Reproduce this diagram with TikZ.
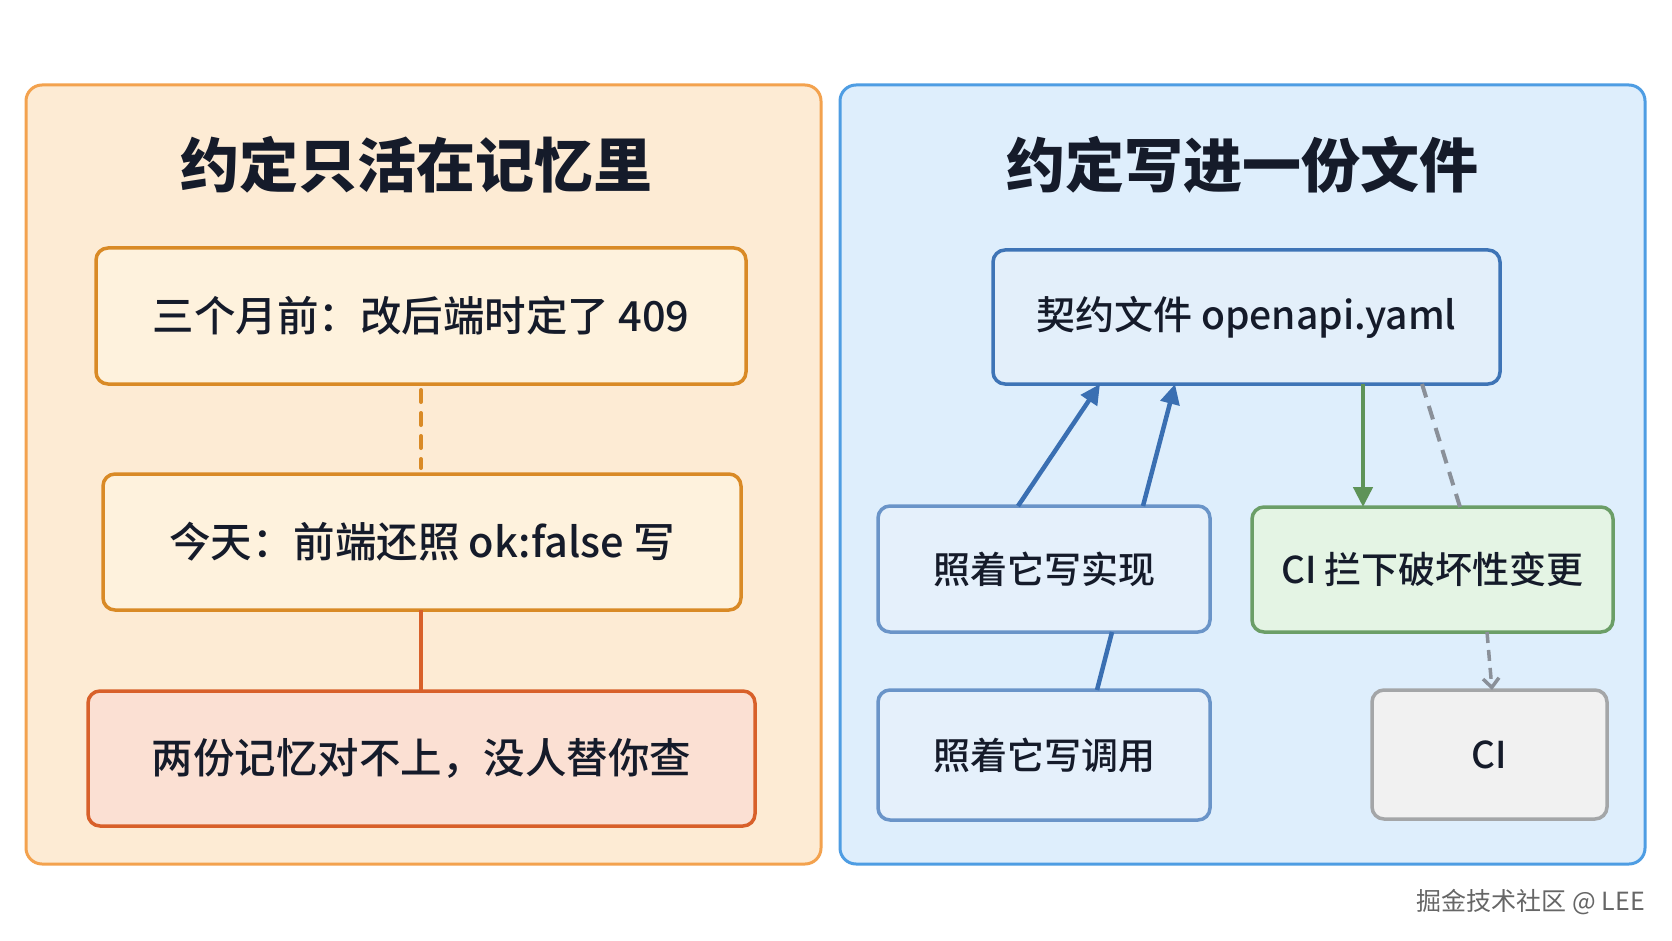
\documentclass[tikz,border=0pt]{standalone}
\usepackage{fontspec}
\setmainfont{Noto Sans CJK SC}
\newfontfamily\medfont{Noto Sans CJK SC Medium}
\usetikzlibrary{arrows.meta,calc}
\definecolor{ink}{HTML}{151B2A}
\definecolor{lpfill}{HTML}{FDEBD4}
\definecolor{lpdraw}{HTML}{F3A24E}
\definecolor{ofill}{HTML}{FEF2DD}
\definecolor{odraw}{HTML}{D98A26}
\definecolor{rfill}{HTML}{FBE0D3}
\definecolor{rdraw}{HTML}{D8602A}
\definecolor{rpfill}{HTML}{DEEEFC}
\definecolor{rpdraw}{HTML}{4E9DE3}
\definecolor{cfill}{HTML}{E3EFFA}
\definecolor{cdraw}{HTML}{3E74B6}
\definecolor{bfill}{HTML}{E5F0FB}
\definecolor{bdraw}{HTML}{6A94C8}
\definecolor{gfill}{HTML}{E4F4E4}
\definecolor{gdraw}{HTML}{6B9E67}
\definecolor{gyfill}{HTML}{F1F1F1}
\definecolor{gydraw}{HTML}{A4A6A8}
\definecolor{barrow}{HTML}{3A6FB2}
\definecolor{garrow}{HTML}{5E9358}
\definecolor{gyarrow}{HTML}{8A9099}
\tikzset{
  panel/.style={rounded corners=16pt, line width=3pt},
  box/.style={rounded corners=12pt, line width=3.5pt, inner sep=0pt, outer sep=0pt,
    text=ink, font=\medfont\fontsize{37}{44}\selectfont},
  bigtxt/.style={font=\medfont\fontsize{41.5}{48}\selectfont},
  ttl/.style={text=ink, font=\fontsize{59}{70}\selectfont\bfseries, inner sep=0pt},
  bluearrow/.style={draw=barrow, line width=4.5pt, -{Triangle[length=20pt,width=19pt]}},
  blueline/.style={draw=barrow, line width=4.5pt},
}
\begin{document}
\begin{tikzpicture}[x=1pt,y=-1pt]
\useasboundingbox (0,0) rectangle (1672,941);
\fill[white] (0,0) rectangle (1672,941);
% panels
\draw[panel, fill=lpfill, draw=lpdraw] (26,85) rectangle (821,864);
\draw[panel, fill=rpfill, draw=rpdraw] (840,85) rectangle (1645,864);
\node[ttl] (tl) at (416,165) {约定只活在记忆里};
\node[ttl] (tr) at (1242,165) {约定写进一份文件};
% left boxes
\node[box, bigtxt, fill=ofill, draw=odraw, minimum width=650pt, minimum height=136pt] (b1) at (421,316) {三个月前：改后端时定了 409};
\node[box, bigtxt, fill=ofill, draw=odraw, minimum width=638pt, minimum height=136pt] (b2) at (422,542) {今天：前端还照 ok:false 写};
\node[box, bigtxt, fill=rfill, draw=rdraw, minimum width=667pt, minimum height=135pt] (b3) at (421.5,758.5) {两份记忆对不上，没人替你查};
\draw[odraw, line width=4pt, line cap=round, dash pattern=on 12pt off 11pt] ($(b1.south west)+(325,6)$) -- ($(b2.north west)+(318,-6)$);
\draw[rdraw, line width=4pt] ($(b2.south west)+(318,0)$) -- ($(b3.north west)+(333,0)$);
% right boxes
\node[box, fill=cfill, draw=cdraw, minimum width=507pt, minimum height=134pt, font=\medfont\fontsize{39}{46}\selectfont] (ct) at (1246.5,317) {契约文件 openapi.yaml};
\node[box, fill=bfill, draw=bdraw, minimum width=332pt, minimum height=126pt] (impl) at (1044,569) {照着它写实现};
\node[box, fill=gfill, draw=gdraw, minimum width=361pt, minimum height=125pt] (ciblk) at (1432.5,569.5) {CI 拦下破坏性变更};
\node[box, fill=bfill, draw=bdraw, minimum width=332pt, minimum height=130pt] (call) at (1044,755) {照着它写调用};
\node[box, fill=gyfill, draw=gydraw, minimum width=235pt, minimum height=129pt] (ci) at (1489.5,754.5) {CI};
% connectors
\draw[bluearrow] ($(impl.north west)+(140,0)$) -- ($(ct.south west)+(107,0)$);
\draw[bluearrow] ($(impl.north west)+(265,0)$) -- ($(ct.south west)+(182,0)$);
\draw[blueline] ($(call.north west)+(219,0)$) -- ($(impl.south west)+(234,0)$);
\draw[garrow, line width=4.5pt, -{Triangle[length=20pt,width=19pt]}] ($(ct.south west)+(370,0)$) -- ($(ciblk.north west)+(111,0)$);
\draw[gyarrow, line width=4pt, dash pattern=on 14pt off 9pt] ($(ct.south west)+(429,0)$) -- ($(ciblk.north west)+(208,0)$);
\draw[gyarrow, line width=3.5pt, dash pattern=on 11pt off 7pt, -{Straight Barb[length=9pt,width=16pt,line width=3.5pt]}] ($(ciblk.south west)+(235,0)$) -- ($(ci.north west)+(120,0)$);
% watermark
\node[anchor=east, inner sep=0pt, text=gray!80!black, font=\fontsize{25}{29}\selectfont] (wm) at (1645,902) {掘金技术社区 @ LEE};
\end{tikzpicture}
\end{document}
